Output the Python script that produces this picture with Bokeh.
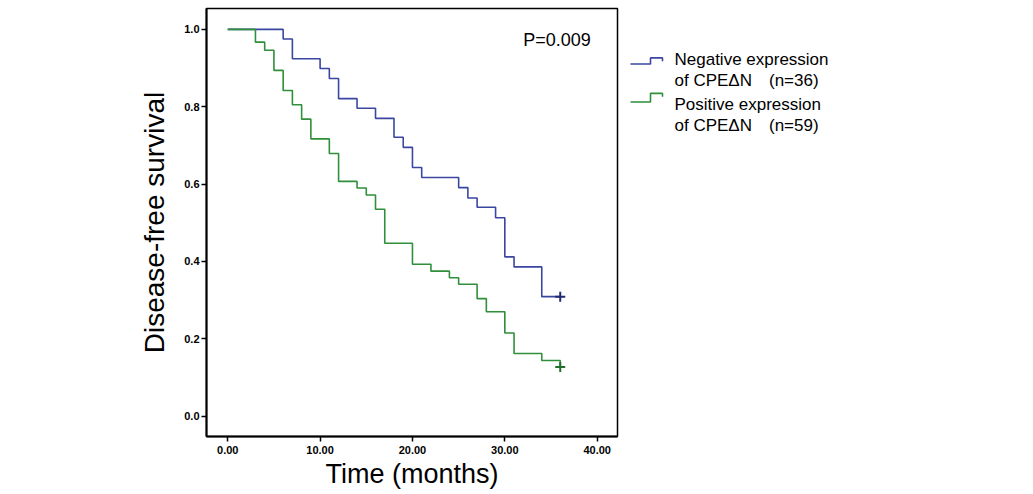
from bokeh.plotting import figure
from bokeh.models import Range1d, FixedTicker, PrintfTickFormatter, Label
from bokeh.layouts import row
from bokeh.embed import file_html
from bokeh.resources import INLINE

# Kaplan-Meier steps
neg_times = [0, 6, 7, 10, 11, 12, 14, 16, 18, 19, 20, 21, 25, 26, 27, 29, 30, 31, 34, 36]
neg_surv = [1.0, 0.975, 0.924, 0.899, 0.873, 0.821, 0.796, 0.770, 0.721, 0.695,
            0.643, 0.617, 0.591, 0.564, 0.540, 0.513, 0.412, 0.386, 0.309, 0.309]

pos_times = [0, 3, 4, 5, 6, 7, 8, 9, 11, 12, 14, 15, 16, 17, 20, 22, 24, 25, 27, 28, 30, 31, 34, 36]
pos_surv = [1.0, 0.967, 0.946, 0.894, 0.842, 0.805, 0.768, 0.717, 0.679, 0.607, 0.590, 0.572,
            0.535, 0.447, 0.393, 0.375, 0.358, 0.341, 0.304, 0.270, 0.215, 0.162, 0.144, 0.127]

# censored points at the end of follow-up
neg_cens_t = [36]
neg_cens_s = [0.309]
pos_cens_t = [36]
pos_cens_s = [0.127]

x_ticks = [0, 10, 20, 30, 40]
y_ticks = [0.0, 0.2, 0.4, 0.6, 0.8, 1.0]

labels = ["Negative expression\nof CPE\u0394N\u3000(n=36)",
          "Positive expression\nof CPE\u0394N\u3000(n=59)"]

BLUE = "#3a46a0"
GREEN = "#2f8f3a"
FONT = "Liberation Sans"

p = figure(width=620, height=494, x_range=Range1d(-2.3, 42.2), y_range=Range1d(-0.0525, 1.054),
           output_backend="svg", toolbar_location=None,
           min_border_left=206, min_border_right=3, min_border_top=8, min_border_bottom=58)

p.step(neg_times, neg_surv, mode="after", line_color=BLUE, line_width=1.6)
p.step(pos_times, pos_surv, mode="after", line_color=GREEN, line_width=1.6)
p.scatter(neg_cens_t, neg_cens_s, marker="cross", size=10, line_width=2, line_color="#1f2a70")
p.scatter(pos_cens_t, pos_cens_s, marker="cross", size=10, line_width=2, line_color="#1f6e2a")

p.xgrid.visible = False
p.ygrid.visible = False
p.outline_line_color = "black"
p.outline_line_width = 1.5
p.background_fill_color = "white"
p.border_fill_color = "white"

for ax in (p.xaxis[0], p.yaxis[0]):
    ax.axis_line_color = "black"
    ax.axis_line_width = 2
    ax.major_tick_line_color = "black"
    ax.major_tick_line_width = 1.5
    ax.major_tick_in = 0
    ax.major_tick_out = 5
    ax.minor_tick_line_color = None
    ax.major_label_text_font = FONT
    ax.major_label_text_font_style = "bold"
    ax.major_label_text_font_size = "11px"
    ax.major_label_text_color = "black"
    ax.axis_label_text_font = FONT
    ax.axis_label_text_font_style = "normal"
    ax.axis_label_text_color = "black"

p.xaxis.ticker = FixedTicker(ticks=x_ticks)
p.xaxis.formatter = PrintfTickFormatter(format="%.2f")
p.xaxis.axis_label = "Time (months)"
p.xaxis.axis_label_text_font_size = "27px"
p.xaxis.axis_label_standoff = 2
p.xaxis.major_label_standoff = 4

p.yaxis.ticker = FixedTicker(ticks=y_ticks)
p.yaxis.formatter = PrintfTickFormatter(format="%.1f")
p.yaxis.axis_label = "Disease-free survival"
p.yaxis.axis_label_text_font_size = "28px"
p.yaxis.axis_label_standoff = 11
p.yaxis.major_label_standoff = 2

p.add_layout(Label(x=32.0, y=0.948, text="P=0.009", text_font=FONT,
                   text_font_size="18px", text_color="black"))

# legend panel drawn in pixel-like coordinates
leg = figure(width=413, height=494, x_range=Range1d(0, 413), y_range=Range1d(494, 0),
             output_backend="svg", toolbar_location=None,
             min_border_left=0, min_border_right=0, min_border_top=0, min_border_bottom=0)
leg.axis.visible = False
leg.grid.visible = False
leg.outline_line_color = None

icons = [(BLUE, 64, 57), (GREEN, 108, 98)]
text_y = [59, 111]
for (col, lo, hi), ty, lab in zip(icons, text_y, labels):
    leg.line([10, 30, 30, 42, 42], [lo, lo, hi, hi, hi + 4], line_color=col, line_width=1.6)
    first, second = lab.split("\n")
    leg.add_layout(Label(x=54, y=ty, text=first, text_font=FONT, text_font_size="17px",
                         text_color="black", text_baseline="alphabetic"))
    leg.add_layout(Label(x=54, y=ty + 24, text=second, text_font=FONT, text_font_size="17px",
                         text_color="black", text_baseline="alphabetic"))

layout = row(p, leg)
open("out.html", "w").write(file_html(layout, INLINE))
